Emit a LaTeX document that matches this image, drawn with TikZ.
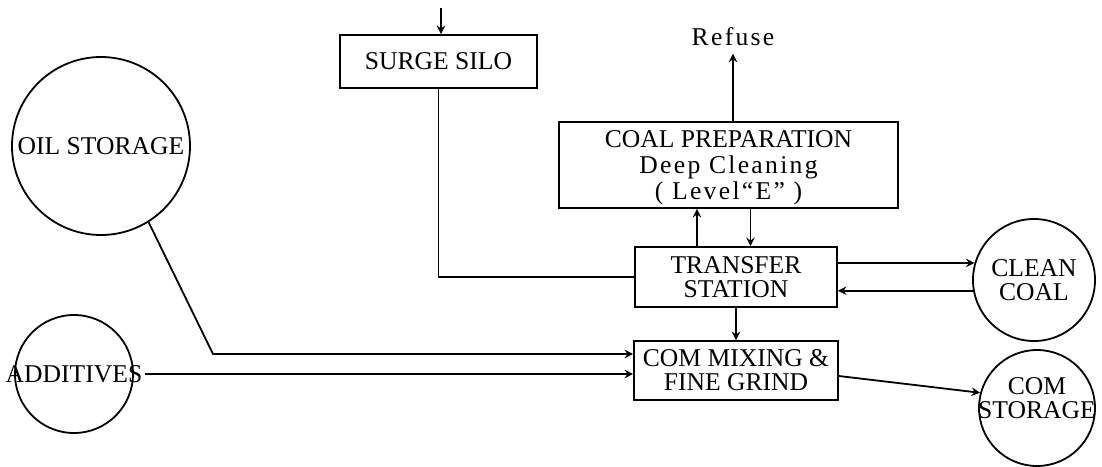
\documentclass[tikz,border=0pt]{standalone}
\usepackage{fontspec}
\setmainfont{Liberation Serif}
\begin{document}
\begin{tikzpicture}[>=stealth, x=0.5pt, y=-0.5pt, line width=0.9pt,
        every node/.style={font=\fontsize{12.8}{15}\selectfont, align=center},
        unit/.style={draw, rectangle, inner sep=1pt},
        tank/.style={draw, circle, inner sep=0pt},
        spaced/.style={font=\fontsize{12.8}{15}\selectfont\addfontfeature{LetterSpace=9}}]
            \useasboundingbox (0, 0) rectangle (1102, 466);

            % boxes
            \node[unit, minimum width=98.5pt, minimum height=26.5pt] (silo) at (438.5, 61.5) {SURGE SILO};
            \node[unit, minimum width=169.5pt, minimum height=43pt, text depth=-4pt] (prep) at (728.5, 165)
                {COAL PREPARATION\\[-2pt] {\addfontfeature{LetterSpace=9}Deep Cleaning}\\[-2pt] {\addfontfeature{LetterSpace=9}( Level“E” )}};
            \node[unit, minimum width=101pt, minimum height=30pt] (transfer) at (736, 277) {TRANSFER\\[-3pt] STATION};
            \node[unit, minimum width=102pt, minimum height=29.5pt] (mix) at (736, 370.5) {COM MIXING \&\\[-3pt] FINE GRIND};

            % tanks
            \node[tank, minimum size=89pt] (oil) at (101, 146) {};
            \node (oiltext) at (oil) {OIL STORAGE};
            \node[tank, minimum size=59pt] (add) at (74, 374) {};
            \node[inner sep=1pt] (addtext) at (add) {ADDITIVES};
            \node[tank, minimum size=61pt] (clean) at (1034, 280) {CLEAN\\[-3pt] COAL};
            \node[tank, minimum size=58pt] (comst) at (1037, 408) {};
            \node (comsttext) at (1037, 398) {COM\\[-3pt] STORAGE};

            \node[spaced] (refuse) at (733, 37) {Refuse};
            \coordinate (siloin) at (441, 8);
            \coordinate (oilbend) at (213, 354);

            % flows
            \draw[->] (siloin) -- (siloin |- silo.north);
            \draw (silo.south) |- (transfer.west);
            \draw[->] ([xshift=-19.5pt]transfer.north) -- ([xshift=-19.5pt]transfer.north |- prep.south);
            \draw[->] ([xshift=11pt]prep.south) -- ([xshift=11pt]prep.south |- transfer.north);
            \draw[->] (refuse |- prep.north) -- (refuse.south);
            \draw[->] (transfer.south) -- (mix.north);
            \draw[->] (transfer.east |- clean.164) -- (clean.164);
            \draw[->] (clean.190) -- (clean.190 -| transfer.east);
            \draw[->] ([yshift=-2.75pt]mix.east) -- (comst.165);
            \draw[->] (oil.-58) -- (oilbend) -- (oilbend -| mix.west);
            \draw[->] (addtext.east) -- (addtext.east -| mix.west);
        \end{tikzpicture}
\end{document}
